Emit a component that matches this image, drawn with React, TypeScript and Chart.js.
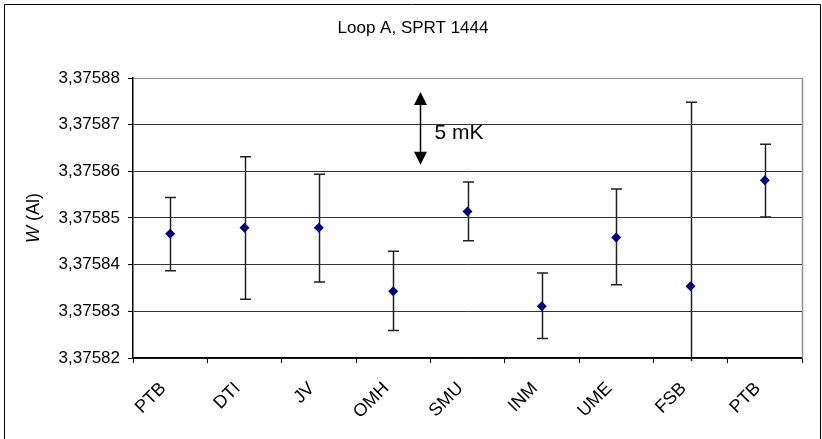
import React, { useEffect, useRef } from "react";
import { Chart, registerables } from "chart.js";

Chart.register(...registerables);

const categories = ["PTB", "DTI", "JV", "OMH", "SMU", "INM", "UME", "FSB", "PTB"];
const wValues = [3.3758466, 3.3758479, 3.3758479, 3.3758343, 3.3758514, 3.3758311, 3.3758458, 3.3758354, 3.3758581];
const wUpper = [3.3758544, 3.3758631, 3.3758594, 3.3758429, 3.3758577, 3.3758382, 3.3758562, 3.3758748, 3.3758658];
const wLower = [3.3758387, 3.3758326, 3.3758363, 3.3758259, 3.3758451, 3.3758242, 3.3758357, 3.375796, 3.3758502];

const yMin = 3.37582;
const yMax = 3.37588;
const yStep = 0.00001;

const titleText = "Loop A, SPRT 1444";
const arrowLabel = "5 mK";
const arrowX = 3.36; // category position
const arrowTop = 3.375877;
const arrowBottom = 3.3758614;

const FONT = "'Liberation Sans', Arial, sans-serif";

const decorPlugin = {
  id: "decor",
  beforeDatasetsDraw(chart: any) {
    const { ctx, chartArea } = chart;
    const x = chart.scales.x;
    const y = chart.scales.y;
    ctx.save();
    ctx.beginPath();
    ctx.rect(chartArea.left, chartArea.top - 2, chartArea.right - chartArea.left, chartArea.bottom - chartArea.top + 5);
    ctx.clip();
    ctx.strokeStyle = "#222";
    ctx.lineWidth = 1.5;
    for (let i = 0; i < wValues.length; i++) {
      const px = Math.round(x.getPixelForValue(i)) + 0.5;
      const top = y.getPixelForValue(wUpper[i]);
      const bot = y.getPixelForValue(wLower[i]);
      ctx.beginPath();
      ctx.moveTo(px, top);
      ctx.lineTo(px, bot);
      ctx.moveTo(px - 5.5, top);
      ctx.lineTo(px + 5.5, top);
      ctx.moveTo(px - 5.5, bot);
      ctx.lineTo(px + 5.5, bot);
      ctx.stroke();
    }
    ctx.restore();
  },
  afterDraw(chart: any) {
    const { ctx, chartArea, width } = chart;
    const x = chart.scales.x;
    const y = chart.scales.y;
    ctx.save();
    // outer border
    ctx.strokeStyle = "#000";
    ctx.lineWidth = 1;
    ctx.beginPath();
    ctx.moveTo(4.5, 460);
    ctx.lineTo(4.5, 4.5);
    ctx.lineTo(width - 1.5, 4.5);
    ctx.lineTo(width - 1.5, 460);
    ctx.stroke();
    // right plot border
    ctx.strokeStyle = "#909090";
    ctx.lineWidth = 1.5;
    ctx.beginPath();
    ctx.moveTo(chartArea.right + 0.5, chartArea.top);
    ctx.lineTo(chartArea.right + 0.5, chartArea.bottom);
    ctx.stroke();
    // title
    ctx.fillStyle = "#000";
    ctx.font = `17px ${FONT}`;
    ctx.textAlign = "center";
    ctx.textBaseline = "middle";
    ctx.fillText(titleText, width / 2 + 2, 28);
    // y axis title: W (Al)
    ctx.save();
    const cy = (chartArea.top + chartArea.bottom) / 2;
    ctx.translate(34, cy);
    ctx.rotate(-Math.PI / 2);
    ctx.font = `italic 18px ${FONT}`;
    const wW = ctx.measureText("W").width;
    ctx.font = `18px ${FONT}`;
    const rest = " (Al)";
    const rW = ctx.measureText(rest).width;
    const startX = -(wW + rW) / 2;
    ctx.textAlign = "left";
    ctx.font = `italic 18px ${FONT}`;
    ctx.fillText("W", startX, 0);
    ctx.font = `18px ${FONT}`;
    ctx.fillText(rest, startX + wW, 0);
    ctx.restore();
    // arrow
    const ax = Math.round(x.getPixelForValue(arrowX)) + 0.5;
    const at = y.getPixelForValue(arrowTop);
    const ab = y.getPixelForValue(arrowBottom);
    const head = 13;
    const hw = 6.5;
    ctx.strokeStyle = "#000";
    ctx.fillStyle = "#000";
    ctx.lineWidth = 1.5;
    ctx.beginPath();
    ctx.moveTo(ax, at + head - 1);
    ctx.lineTo(ax, ab - head + 1);
    ctx.stroke();
    ctx.beginPath();
    ctx.moveTo(ax, at);
    ctx.lineTo(ax - hw, at + head);
    ctx.lineTo(ax + hw, at + head);
    ctx.closePath();
    ctx.fill();
    ctx.beginPath();
    ctx.moveTo(ax, ab);
    ctx.lineTo(ax - hw, ab - head);
    ctx.lineTo(ax + hw, ab - head);
    ctx.closePath();
    ctx.fill();
    ctx.font = `21px ${FONT}`;
    ctx.textAlign = "left";
    ctx.textBaseline = "alphabetic";
    ctx.fillText(arrowLabel, ax + 14, (at + ab) / 2 + 11);
    ctx.restore();
  },
};

export default function App() {
  const canvasRef = useRef<HTMLCanvasElement | null>(null);

  useEffect(() => {
    if (!canvasRef.current) return;
    const chart = new Chart(canvasRef.current, {
      type: "scatter",
      data: {
        labels: categories,
        datasets: [
          {
            data: wValues.map((v, i) => ({ x: i, y: v })),
            backgroundColor: "#000080",
            borderColor: "#000080",
            pointStyle: "rectRot",
            pointRadius: 5,
            pointBorderWidth: 0,
            showLine: false,
          },
        ],
      },
      options: {
        animation: false,
        responsive: false,
        maintainAspectRatio: false,
        layout: { padding: { left: 0, top: 78, right: 20, bottom: 0 } },
        plugins: {
          legend: { display: false },
          title: { display: false },
          tooltip: { enabled: false },
        },
        scales: {
          x: {
            type: "category",
            labels: categories,
            offset: true,
            afterFit(scale: any) {
              scale.height = 81;
            },
            grid: {
              offset: true,
              drawOnChartArea: false,
              drawTicks: true,
              tickLength: 5,
              color: "#000",
              lineWidth: 1,
            },
            border: { color: "#000", width: 1.5 },
            ticks: {
              color: "#000",
              font: { family: FONT, size: 18 },
              minRotation: 45,
              maxRotation: 45,
              autoSkip: false,
              padding: 15,
              labelOffset: -7,
            },
          },
          y: {
            type: "linear",
            min: yMin,
            max: yMax,
            afterFit(scale: any) {
              scale.width = 133;
            },
            afterBuildTicks(scale: any) {
              const t = [];
              for (let i = 0; i <= Math.round((yMax - yMin) / yStep); i++) {
                t.push({ value: yMin + i * yStep });
              }
              scale.ticks = t;
            },
            grid: {
              color: (c: any) => (c.index === 6 ? "#909090" : "#333"),
              lineWidth: 1,
              drawTicks: true,
              tickLength: 5,
              tickColor: "#000",
            },
            border: { color: "#000", width: 1.5 },
            ticks: {
              color: "#000",
              font: { family: FONT, size: 17 },
              padding: 8,
              callback: (v: any) => Number(v).toFixed(5).replace(".", ","),
            },
          },
        },
      },
      plugins: [decorPlugin],
    } as any);
    return () => chart.destroy();
  }, []);

  return (
    <div style={{ position: "absolute", left: 0, top: 0, width: 822, height: 439, background: "#fff" }}>
      <canvas ref={canvasRef} width={822} height={439} style={{ display: "block", width: 822, height: 439 }} />
    </div>
  );
}
